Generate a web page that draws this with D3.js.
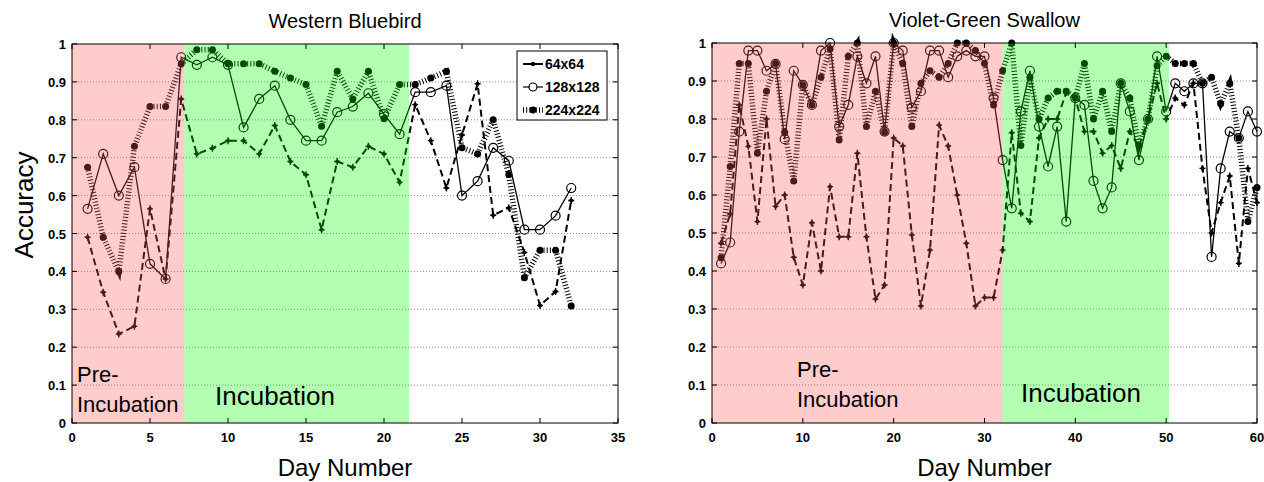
<!DOCTYPE html>
<html>
<head>
<meta charset="utf-8">
<script src="https://cdn.jsdelivr.net/npm/d3@7"></script>
<style>
  body { margin: 0; background: #fff; }
  svg { display: block; font-family: Arial, "Liberation Sans", Helvetica, sans-serif; }
</style>
</head>
<body>
<svg id="chart" width="1264" height="482"></svg>
<script>
// ---- data ----
const seriesNames = ["64x64", "128x128", "224x224"];

const bluebirdDays = [1,2,3,4,5,6,7,8,9,10,11,12,13,14,15,16,17,18,19,20,21,22,23,24,25,26,27,28,29,30,31,32];
const bluebird64 = [0.49,0.345,0.235,0.255,0.565,0.38,0.855,0.71,0.725,0.745,0.745,0.71,0.785,0.69,0.655,0.51,
  0.69,0.675,0.73,0.71,0.635,0.84,0.745,0.62,0.76,0.895,0.548,0.568,0.45,0.31,0.347,0.587];
const bluebird128 = [0.565,0.71,0.60,0.675,0.42,0.38,0.965,0.945,0.965,0.945,0.78,0.855,0.89,0.80,0.745,0.745,
  0.82,0.835,0.87,0.815,0.762,0.873,0.873,0.89,0.60,0.638,0.726,0.692,0.51,0.51,0.547,0.62];
const bluebird224 = [0.675,0.49,0.40,0.73,0.835,0.835,0.948,0.985,0.985,0.948,0.948,0.948,0.928,0.91,0.893,0.783,
  0.928,0.855,0.928,0.803,0.893,0.893,0.91,0.928,0.726,0.71,0.80,0.656,0.383,0.456,0.456,0.309];

const swallowDays = [1,2,3,4,5,6,7,8,9,10,11,12,13,14,15,16,17,18,19,20,21,22,23,24,25,26,27,28,29,30,
  31,32,33,34,35,36,37,38,39,40,41,42,43,44,45,46,47,48,49,50,51,52,53,54,55,56,57,58,59,60];
const swallow64 = [0.473,0.55,0.837,0.728,0.53,0.80,0.57,0.60,0.436,0.363,0.527,0.40,0.622,0.49,0.49,0.71,0.49,0.326,0.363,0.75,
  0.729,0.495,0.308,0.455,0.784,0.729,0.60,0.473,0.308,0.33,0.33,0.455,0.764,0.552,0.53,0.75,0.80,0.80,0.87,0.855,
  0.767,0.767,0.71,0.73,0.67,0.767,0.727,0.80,0.894,0.80,0.855,0.837,0.894,0.67,0.50,0.58,0.65,0.42,0.67,0.58];
const swallow128 = [0.42,0.475,0.767,0.98,0.98,0.927,0.945,0.747,0.927,0.89,0.837,0.98,1.0,0.78,0.837,0.965,0.894,0.965,0.767,1.0,
  0.98,0.83,0.873,0.98,0.98,0.91,0.965,0.98,0.965,0.965,0.855,0.692,0.565,0.82,0.927,0.78,0.675,0.78,0.53,0.855,
  0.837,0.637,0.565,0.62,0.894,0.82,0.692,0.80,0.965,0.82,0.894,0.873,0.894,0.894,0.437,0.67,0.767,0.75,0.82,0.767];
const swallow224 = [0.435,0.675,0.946,0.946,0.71,0.873,0.946,0.765,0.637,0.89,0.837,0.91,0.985,0.745,0.965,1.0,0.78,0.873,0.765,1.0,
  0.946,0.78,0.894,0.927,0.91,0.946,1.0,1.0,0.98,0.946,0.837,0.927,1.0,0.73,0.91,0.80,0.855,0.873,0.873,0.855,
  0.946,0.80,0.873,0.767,0.894,0.855,0.73,0.80,0.94,0.965,0.946,0.946,0.946,0.894,0.91,0.84,0.894,0.75,0.53,0.62];

const yTicks = [0,0.1,0.2,0.3,0.4,0.5,0.6,0.7,0.8,0.9,1];
const bluebirdXTicks = [0,5,10,15,20,25,30,35];
const swallowXTicks = [0,10,20,30,40,50,60];

// phase bands: [start day, end day]
const bluebirdPre = [0, 7.2], bluebirdInc = [7.2, 21.6];
const swallowPre = [0, 32], swallowInc = [32, 50.3];

const svg = d3.select("#chart");

function drawPanel({ left, right, top, bottom, xMax, xTicks, days, s64, s128, s224, pre, inc, title, preLabel, incLabel, legend }) {
    const x = d3.scaleLinear().domain([0, xMax]).range([left, right]);
    const y = d3.scaleLinear().domain([0, 1]).range([bottom, top]);
    const g = svg.append("g");

    // white plot background
    g.append("rect").attr("x", left).attr("y", top).attr("width", right - left).attr("height", bottom - top).attr("fill", "#fff");

    // dotted horizontal grid
    g.selectAll(".grid").data(yTicks.filter(t => t > 0 && t < 1)).enter().append("line")
        .attr("x1", left).attr("x2", right)
        .attr("y1", d => y(d)).attr("y2", d => y(d))
        .attr("stroke", "#8a8a8a").attr("stroke-width", 1).attr("stroke-dasharray", "1,2");

    const line = d3.line().x((d, i) => x(days[i])).y(d => y(d));

    // 64x64: dashed with small star markers
    g.append("path").datum(s64).attr("d", line).attr("fill", "none")
        .attr("stroke", "#000").attr("stroke-width", 2).attr("stroke-dasharray", "7,4");
    g.selectAll(".m64").data(s64).enter().append("path")
        .attr("transform", (d, i) => `translate(${x(days[i])},${y(d)})`)
        .attr("d", "M-3,0H3M0,-3.5V3.5")
        .attr("stroke", "#000").attr("stroke-width", 1.4);
    g.selectAll(".m64c").data(s64).enter().append("circle")
        .attr("cx", (d, i) => x(days[i])).attr("cy", d => y(d)).attr("r", 2).attr("fill", "#000");

    // 128x128: solid with open circles
    g.append("path").datum(s128).attr("d", line).attr("fill", "none")
        .attr("stroke", "#000").attr("stroke-width", 1.3);
    g.selectAll(".m128").data(s128).enter().append("circle")
        .attr("cx", (d, i) => x(days[i])).attr("cy", d => y(d)).attr("r", 4.5)
        .attr("fill", "none").attr("stroke", "#000").attr("stroke-width", 1.2);

    // 224x224: thick hatched dotted with filled dots
    g.append("path").datum(s224).attr("d", line).attr("fill", "none")
        .attr("stroke", "#000").attr("stroke-width", 5.5).attr("stroke-dasharray", "1,2.2");
    g.selectAll(".m224").data(s224).enter().append("circle")
        .attr("cx", (d, i) => x(days[i])).attr("cy", d => y(d)).attr("r", 3.5).attr("fill", "#000");

    // translucent phase overlays
    g.append("rect").attr("x", x(pre[0])).attr("y", top).attr("width", x(pre[1]) - x(pre[0])).attr("height", bottom - top)
        .attr("fill", "rgb(255,85,85)").attr("opacity", 0.3);
    g.append("rect").attr("x", x(inc[0])).attr("y", top).attr("width", x(inc[1]) - x(inc[0])).attr("height", bottom - top)
        .attr("fill", "rgb(0,255,0)").attr("opacity", 0.3);

    // axes box with inward ticks
    const tickLen = 5;
    g.append("rect").attr("x", left).attr("y", top).attr("width", right - left).attr("height", bottom - top)
        .attr("fill", "none").attr("stroke", "#000").attr("stroke-width", 1);
    g.selectAll(".xt").data(xTicks).enter().append("path")
        .attr("d", d => `M${x(d)},${bottom}v${-tickLen}M${x(d)},${top}v${tickLen}`)
        .attr("stroke", "#000");
    g.selectAll(".yt").data(yTicks).enter().append("path")
        .attr("d", d => `M${left},${y(d)}h${tickLen}M${right},${y(d)}h${-tickLen}`)
        .attr("stroke", "#000");

    g.selectAll(".xl").data(xTicks).enter().append("text")
        .attr("x", d => x(d)).attr("y", bottom + 19).attr("text-anchor", "middle")
        .attr("font-size", 13).attr("font-weight", "bold").text(d => d);
    g.selectAll(".yl").data(yTicks).enter().append("text")
        .attr("x", left - 6).attr("y", d => y(d) + 5).attr("text-anchor", "end")
        .attr("font-size", 13).attr("font-weight", "bold").text(d => d);

    // titles / axis labels
    const cx = (left + right) / 2;
    g.append("text").attr("x", cx).attr("y", top - 16).attr("text-anchor", "middle").attr("font-size", 20).text(title);
    g.append("text").attr("x", cx).attr("y", 476).attr("text-anchor", "middle").attr("font-size", 24).text("Day Number");

    // phase labels
    g.append("text").attr("x", preLabel.x).attr("y", preLabel.y).attr("font-size", 22).text("Pre-");
    g.append("text").attr("x", preLabel.x).attr("y", preLabel.y + 30).attr("font-size", 22).text("Incubation");
    g.append("text").attr("x", incLabel.x).attr("y", incLabel.y).attr("font-size", 26).text("Incubation");

    if (legend) {
        const lg = g.append("g").attr("transform", `translate(${legend.x},${legend.y})`);
        lg.append("rect").attr("width", 90).attr("height", 69).attr("fill", "#fff").attr("stroke", "#000");
        const rows = [13, 36, 59];
        // 64
        lg.append("line").attr("x1", 6).attr("x2", 26).attr("y1", rows[0]).attr("y2", rows[0]).attr("stroke", "#000").attr("stroke-width", 2);
        lg.append("circle").attr("cx", 16).attr("cy", rows[0]).attr("r", 2.2).attr("fill", "#000");
        // 128
        lg.append("line").attr("x1", 6).attr("x2", 26).attr("y1", rows[1]).attr("y2", rows[1]).attr("stroke", "#000").attr("stroke-width", 1.2);
        lg.append("circle").attr("cx", 16).attr("cy", rows[1]).attr("r", 4).attr("fill", "#fff").attr("stroke", "#000").attr("stroke-width", 1.2);
        // 224
        lg.append("line").attr("x1", 6).attr("x2", 26).attr("y1", rows[2]).attr("y2", rows[2]).attr("stroke", "#000")
            .attr("stroke-width", 5.5).attr("stroke-dasharray", "1,2.2");
        lg.append("circle").attr("cx", 16).attr("cy", rows[2]).attr("r", 3.4).attr("fill", "#000");
        lg.selectAll(".lt").data(seriesNames).enter().append("text")
            .attr("x", 28).attr("y", (d, i) => rows[i] + 5)
            .attr("font-size", 14).attr("font-weight", "bold").text(d => d);
    }
}

drawPanel({
    left: 72, right: 618, top: 44, bottom: 423, xMax: 35, xTicks: bluebirdXTicks,
    days: bluebirdDays, s64: bluebird64, s128: bluebird128, s224: bluebird224,
    pre: bluebirdPre, inc: bluebirdInc, title: "Western Bluebird",
    preLabel: { x: 77, y: 382 }, incLabel: { x: 215, y: 405 },
    legend: { x: 517, y: 51 }
});

drawPanel({
    left: 712, right: 1257, top: 43, bottom: 423, xMax: 60, xTicks: swallowXTicks,
    days: swallowDays, s64: swallow64, s128: swallow128, s224: swallow224,
    pre: swallowPre, inc: swallowInc, title: "Violet-Green Swallow",
    preLabel: { x: 797, y: 377 }, incLabel: { x: 1021, y: 402 },
    legend: null
});

// shared y label
svg.append("text").attr("transform", "translate(33,205) rotate(-90)")
    .attr("text-anchor", "middle").attr("font-size", 26).text("Accuracy");
</script>
</body>
</html>
